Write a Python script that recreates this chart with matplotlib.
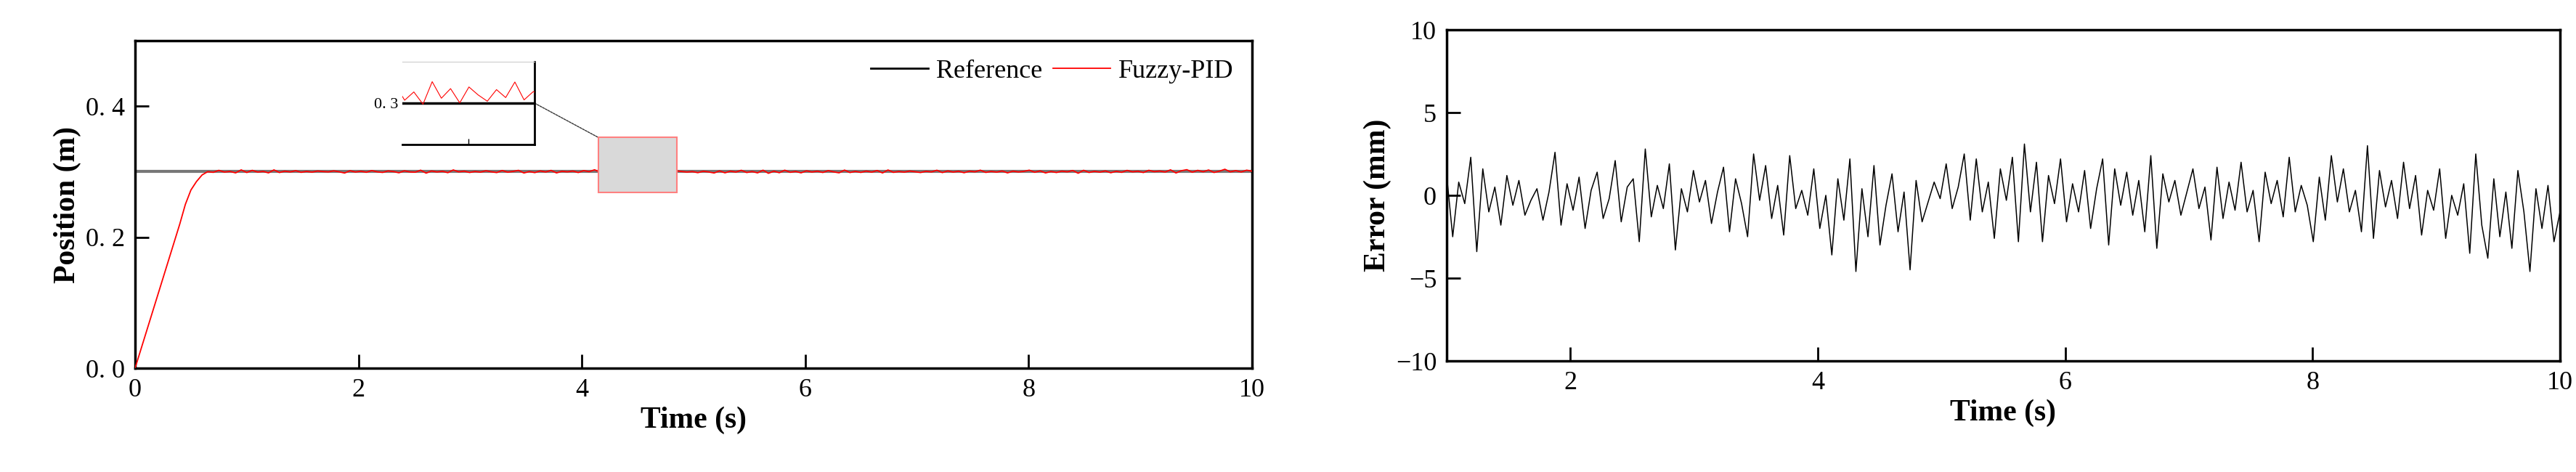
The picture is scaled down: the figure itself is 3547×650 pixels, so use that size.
import matplotlib
matplotlib.use("Agg")
import matplotlib.pyplot as plt
from matplotlib.patches import Rectangle, ConnectionPatch
import numpy as np

plt.rcParams["font.family"] = ["Liberation Serif", "DejaVu Serif"]

# Position response (left panel)
REF_LEVEL = 0.3
RISE_T = [0.0, 0.1, 0.2, 0.3, 0.4, 0.45, 0.5, 0.55, 0.6, 0.65]
RISE_Y = [0.0, 0.055, 0.11, 0.165, 0.22, 0.25, 0.272, 0.285, 0.295, 0.3]

# Tracking error (mm), one value every 0.05 s from 1 s
ERROR_MM = [
    1.2, -2.5, 0.8, -0.5, 2.3, -3.4, 1.6, -1.0, 0.5, -1.8, 1.2, -0.6, 0.9, -1.2, -0.3, 0.4,
    -1.5, 0.2, 2.6, -1.8, 0.7, -0.9, 1.1, -2.0, 0.3, 1.4, -1.4, -0.2, 2.1, -1.6, 0.5, 1.0,
    -2.8, 2.8, -1.3, 0.6, -0.8, 1.9, -3.3, 0.4, -1.0, 1.5, -0.4, 0.9, -1.7, 0.2, 1.7, -2.2,
    1.0, -0.5, -2.5, 2.5, -0.3, 1.8, -1.4, 0.6, -2.4, 2.4, -0.8, 0.3, -1.2, 1.6, -2.0, 0.0,
    -3.6, 1.0, -1.5, 2.2, -4.6, 0.4, -2.5, 1.8, -3.0, -0.6, 1.3, -2.2, 0.2, -4.5, 0.9, -1.6,
    -0.4, 0.8, -0.2, 1.9, -0.8, 0.5, 2.5, -1.5, 2.2, -1.0, 0.8, -2.6, 1.6, -0.3, 2.3, -2.8,
    3.1, -1.0, 2.0, -2.8, 1.2, -0.5, 2.2, -1.6, 0.7, -1.0, 1.5, -2.0, 0.4, 2.2, -3.0, 1.6,
    -0.6, 1.4, -1.2, 0.9, -2.2, 2.4, -3.2, 1.3, -0.4, 0.9, -1.2, 0.2, 1.6, -0.8, 0.5, -2.7,
    1.7, -1.4, 0.8, -0.9, 2.0, -1.0, 0.3, -2.8, 1.4, -0.5, 0.9, -1.3, 2.3, -1.0, 0.6, -0.6,
    -2.8, 1.1, -1.5, 2.4, -0.4, 1.6, -1.0, 0.3, -2.2, 3.0, -2.6, 1.5, -0.7, 0.9, -1.4, 2.0,
    -0.8, 1.2, -2.4, 0.3, -0.9, 1.6, -2.6, 0.0, -1.2, 0.7, -3.5, 2.5, -1.8, -3.8, 1.0, -2.5,
    0.2, -3.2, 1.5, -1.0, -4.6, 0.4, -2.0, 0.6, -2.8, -1.0,
]
ERR_T = np.linspace(1.0, 10.0, len(ERROR_MM))
ERR = np.array(ERROR_MM)

# Fuzzy-PID position = reference minus tracking error once the rise is over
settle_t = np.linspace(0.7, 1.0, 7)
pos_t = np.concatenate([RISE_T, settle_t, ERR_T[1:]])
pos_y = np.concatenate([RISE_Y, REF_LEVEL - ERR[:7] / 1000.0 * 0.8,
                        REF_LEVEL - ERR[1:] / 1000.0 * 0.8])

FS_TICK = 26
FS_LABEL = 30


def style(ax):
    for s in ax.spines.values():
        s.set_linewidth(2.5)
    ax.tick_params(direction="in", length=14, width=2, labelsize=FS_TICK, pad=10)


fig = plt.figure(figsize=(35.48, 6.5), dpi=100)
ax1 = fig.add_axes([186 / 3548, 1 - 507 / 650, (1724 - 186) / 3548, (507 - 56) / 650])
ax2 = fig.add_axes([1992 / 3548, 1 - 497 / 650, (3525 - 1992) / 3548, (497 - 41) / 650])

# Left panel
ax1.plot([0, 10], [REF_LEVEL, REF_LEVEL], color="#777777", lw=3, label="Reference", zorder=2)
ax1.plot(pos_t, pos_y, color="red", lw=1.3, label="Fuzzy-PID", zorder=3)
ax1.set_xlim(0, 10)
ax1.set_ylim(0, 0.5)
ax1.set_xticks([0, 2, 4, 6, 8, 10])
ax1.set_yticks([0.0, 0.2, 0.4])
ax1.set_yticklabels(["0. 0", "0. 2", "0. 4"])
ax1.set_xlabel("Time (s)", fontsize=FS_LABEL, fontweight="bold")
ax1.set_ylabel("Position (m)", fontsize=FS_LABEL, fontweight="bold")
style(ax1)
leg = ax1.legend(loc="upper right", ncol=2, fontsize=FS_TICK, frameon=False,
                 handlelength=2.2, columnspacing=0.4, handletextpad=0.3,
                 borderaxespad=0.3)
leg.get_lines()[0].set_color("black")
leg.get_lines()[0].set_linewidth(2)

# zoom box
ax1.add_patch(Rectangle((4.15, 0.268), 0.7, 0.084, facecolor="#d9d9d9",
                        edgecolor="#ff8080", lw=1.5, zorder=4))

axin = fig.add_axes([554 / 3548, 1 - 199 / 650, (736 - 554) / 3548, (199 - 85) / 650])
axin.plot([4.15, 4.85], [REF_LEVEL, REF_LEVEL], color="black", lw=2.5, zorder=2)
axin.plot(pos_t, REF_LEVEL + (pos_y - REF_LEVEL) * 4 + 0.006, color="red", lw=0.8, zorder=3)
axin.set_xlim(4.15, 4.85)
axin.set_ylim(0.26, 0.34)
axin.set_xticks([4.5])
axin.set_xticklabels([])
axin.set_yticks([0.3])
axin.set_yticklabels(["0. 3"], fontsize=16)
axin.tick_params(direction="in", length=6, width=1, pad=4)
axin.spines["top"].set_color("#cccccc")
axin.spines["left"].set_visible(False)
for s in ["right", "bottom"]:
    axin.spines[s].set_linewidth(2)
ax1.add_artist(ConnectionPatch(xyA=(4.85, REF_LEVEL), coordsA=axin.transData,
                               xyB=(4.15, 0.352), coordsB=ax1.transData,
                               color="#333333", lw=1, linestyle=(0, (2, 1))))

# Right panel
ax2.plot(ERR_T, ERR, color="black", lw=1.1)
ax2.set_xlim(1, 10)
ax2.set_ylim(-10, 10)
ax2.set_xticks([2, 4, 6, 8, 10])
ax2.set_yticks([-10, -5, 0, 5, 10])
ax2.set_xlabel("Time (s)", fontsize=FS_LABEL, fontweight="bold")
ax2.set_ylabel("Error (mm)", fontsize=FS_LABEL, fontweight="bold")
style(ax2)

fig.savefig("out.png", dpi=100)
